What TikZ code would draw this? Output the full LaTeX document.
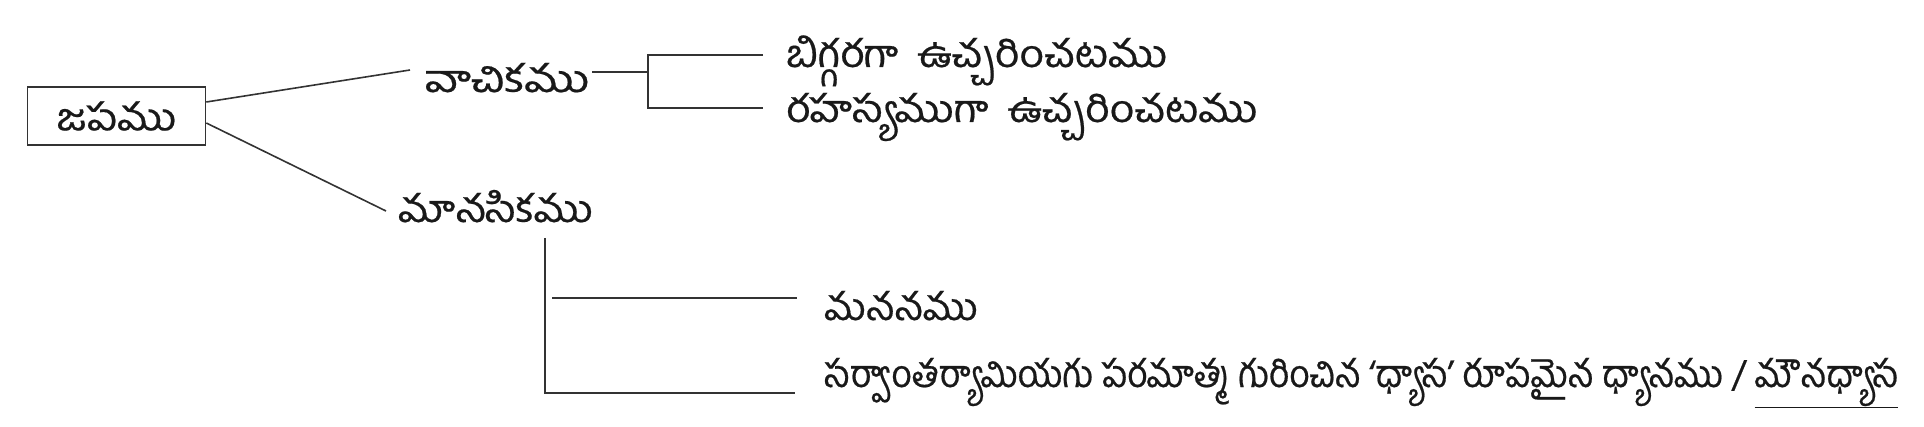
\documentclass[tikz,border=0pt]{standalone}
\usepackage{fontspec}
\newfontfamily\te[Script=Telugu,FakeStretch=1.12,FakeBold=0.5]{Hind Guntur}
\newfontfamily\tenarrow[Script=Telugu,FakeStretch=0.93,FakeBold=0.5]{Hind Guntur}
\begin{document}
\begin{tikzpicture}[x=1pt,y=-1pt,
  lbl/.style={font=\te\fontsize{38}{44}\selectfont, inner sep=0pt, text=black!90},
  lblnarrow/.style={lbl, font=\tenarrow\fontsize{38}{44}\selectfont},
  ln/.style={line width=1.6pt, draw=black!80},
  boxnode/.style={lbl, draw=black!80, line width=1.6pt, minimum width=178pt, minimum height=58pt}]
\useasboundingbox (0,0) rectangle (1924,427);
% nodes
\node[boxnode] (japa) at (116.5,116) {జపము};
\node[lbl, anchor=base west] (vach) at (425,92) {\scalebox{1.1}[1]{వాచికము}};
\node[lbl, anchor=base west] (big) at (786,67) {బిగ్గరగా\hspace{0.5em}ఉచ్చరించటము};
\node[lbl, anchor=base west] (rah) at (786,122) {రహస్యముగా\hspace{0.5em}ఉచ్చరించటము};
\node[lbl, anchor=base west] (manas) at (398,222) {మానసికము};
\node[lbl, anchor=base west] (manana) at (824,320) {\scalebox{0.93}[1]{మననము}};
\node[lblnarrow, anchor=base west] (dhyana) at (824,387) {సర్వాంతర్యామియగు పరమాత్మ గురించిన ‘ధ్యాస’ రూపమైన ధ్యానము / \underline{మౌనధ్యాస}};
% connector points
\coordinate (vin) at (410,70);
\coordinate (min) at (386,211);
\coordinate (vout) at (592,72);
\coordinate (bj) at (648,72);
\coordinate (bt) at (648,55);
\coordinate (bb) at (648,108);
\coordinate (bte) at (763,55);
\coordinate (bbe) at (763,108);
\coordinate (mt) at (545,238);
\coordinate (mb) at (545,393);
\coordinate (mbe) at (795,393);
\coordinate (mms) at (552,298);
\coordinate (mme) at (797,298);
% connectors
\draw[ln] ([yshift=14pt]japa.east) -- (vin);
\draw[ln] ([yshift=-7pt]japa.east) -- (min);
\draw[ln] (vout) -- (bj);
\draw[ln] (bte) -- (bt) -- (bb) -- (bbe);
\draw[ln] (mt) -- (mb) -- (mbe);
\draw[ln] (mms) -- (mme);
\end{tikzpicture}
\end{document}
